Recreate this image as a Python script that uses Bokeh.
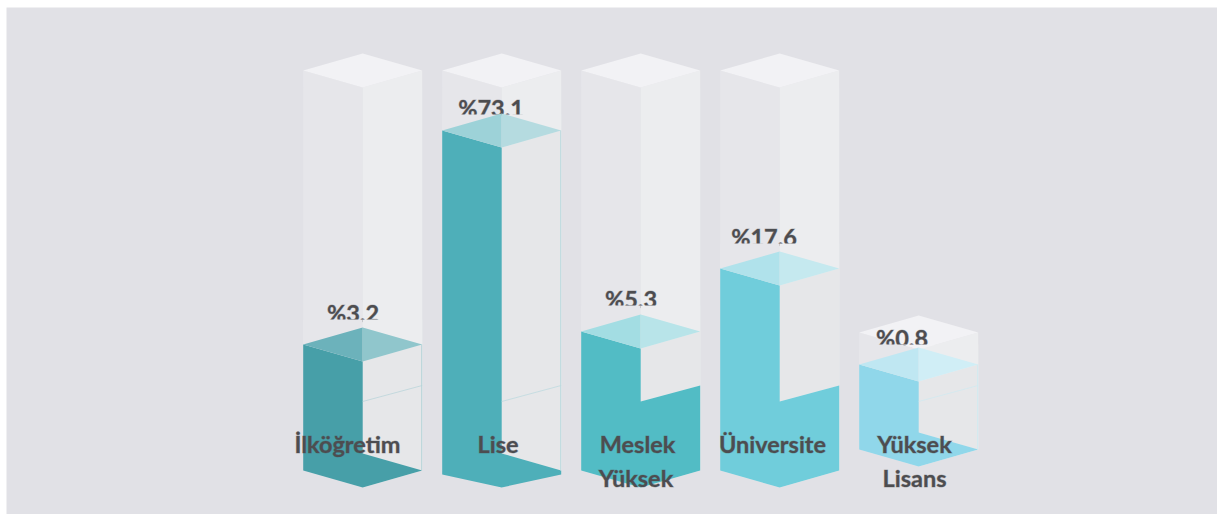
from bokeh.plotting import figure
from bokeh.models import Range1d
from bokeh.core.properties import value
from bokeh.embed import file_html
from bokeh.resources import INLINE

categories = [["İlköğretim"], ["Lise"], ["Meslek", "Yüksek"], ["Üniversite"], ["Yüksek", "Lisans"]]
percents = [3.2, 73.1, 5.3, 17.6, 0.8]
fill_heights = [126, 340, 139, 202, 85]
tube_heights = [400, 400, 400, 400, 117]

front_colors = ["#479fa8", "#4eafb9", "#52bcc5", "#70cddb", "#90d7ea"]
top_left_colors = ["#6cb2bb", "#9dd2d8", "#a3dde3", "#b0e2eb", "#bfe7f2"]
top_right_colors = ["#90c6cc", "#b5dbe0", "#b8e4e9", "#c5e9ef", "#d0eef6"]
edge_colors = ["#b4d3d8", "#b9d9de", "#bfe3e7", "#c5e8ee", "#cfeaf1"]

BG = "#e1e1e6"
TEXT = "#4d4d50"
LEFTS = [302.7, 441.7, 580.7, 719.7, 858.7]
FLOORS = [470, 470, 470, 470, 449]
HALF = 59.5
RISE = 17
PANEL_CUT = [False, False, True, True, False]
LIP = [0, 4, 0, 0, 0]
LABEL_X = [[347], [497.5], [637, 635.5], [772], [914, 914]]
VALUE_X = [352.5, 490.5, 630.5, 763.5, 901.5]
VALUE_CUT = [319, 114, 305, 243, 344]
BASELINE_SHIFT = -9

p = figure(width=1211, height=507, output_backend="svg", toolbar_location=None,
           x_range=Range1d(6, 1217), y_range=Range1d(514, 7),
           x_axis_type=None, y_axis_type=None, min_border=0, outline_line_color=None,
           background_fill_color=BG, border_fill_color=BG)
p.grid.visible = False
p.styles = {"position": "absolute", "left": "6px", "top": "7px"}


def poly(points, color, alpha=1.0):
    p.patch([a for a, _ in points], [b for _, b in points], fill_color=color,
            fill_alpha=alpha, line_color=None)


def clip_below(points, cut):
    out = []
    for i, (x1, y1) in enumerate(points):
        x2, y2 = points[(i + 1) % len(points)]
        if y1 >= cut:
            out.append((x1, y1))
        if (y1 >= cut) != (y2 >= cut):
            t = (cut - y1) / (y2 - y1)
            out.append((x1 + t * (x2 - x1), cut))
    return out


def label(x, y, s):
    p.text([x], [y + BASELINE_SHIFT], text=[s], text_align="center",
           text_baseline="alphabetic", text_font=value("Lato"), text_font_style="bold",
           text_font_size="23.5px", text_color=TEXT, text_outline_color="rgba(77,77,80,0.35)")


for i in range(5):
    L = LEFTS[i]
    C = L + HALF
    R = L + 2 * HALF
    floor = FLOORS[i]
    tt = floor - tube_heights[i]
    ft = floor - fill_heights[i]

    tube = [
        ([(L, tt), (C, tt + RISE), (C, floor + RISE), (L, floor)], "#e6e6ea"),
        ([(C, tt + RISE), (R, tt), (R, floor), (C, floor + RISE)], "#ecedef"),
        ([(L, tt), (C, tt - RISE), (R, tt), (C, tt + RISE)], "#f2f2f5"),
    ]
    for pts, col in tube:
        poly(pts, col)

    label(VALUE_X[i], VALUE_CUT[i] + 2, f"%{percents[i]}")
    # the label is cut off flat just above the liquid, as in the reference
    for pts, col in tube:
        clipped = clip_below(pts, VALUE_CUT[i])
        if clipped:
            poly(clipped, col)

    lip = LIP[i]
    if PANEL_CUT[i]:
        colored = [(L, ft), (C, ft + RISE), (C, 401), (R, 385), (R, floor), (C, floor + RISE), (L, floor)]
        panel = [(C, ft + RISE), (R, ft), (R, 385), (C, 401)]
    else:
        colored = [(L, ft), (C, ft + RISE), (C, floor - RISE), (R, floor), (R, floor + lip),
                   (C, floor + RISE), (L, floor + lip)]
        panel = [(C, ft + RISE), (R, ft), (R, floor), (C, floor - RISE)]
    poly(panel, "#e6e7e9")
    poly(colored, front_colors[i])
    poly([(L, ft), (C, ft - RISE), (C, ft + RISE)], top_left_colors[i])
    poly([(C, ft - RISE), (R, ft), (C, ft + RISE)], top_right_colors[i])
    if not PANEL_CUT[i]:
        p.line([C, R], [401, 385], line_color=edge_colors[i], line_width=0.7)
        p.line([R - 0.5, R - 0.5], [ft, floor], line_color=edge_colors[i], line_width=1)

for i, lines in enumerate(categories):
    for j, line in enumerate(lines):
        label(LABEL_X[i][j], 452 + 34 * j, line)

open("out.html", "w").write(file_html(p, INLINE))
